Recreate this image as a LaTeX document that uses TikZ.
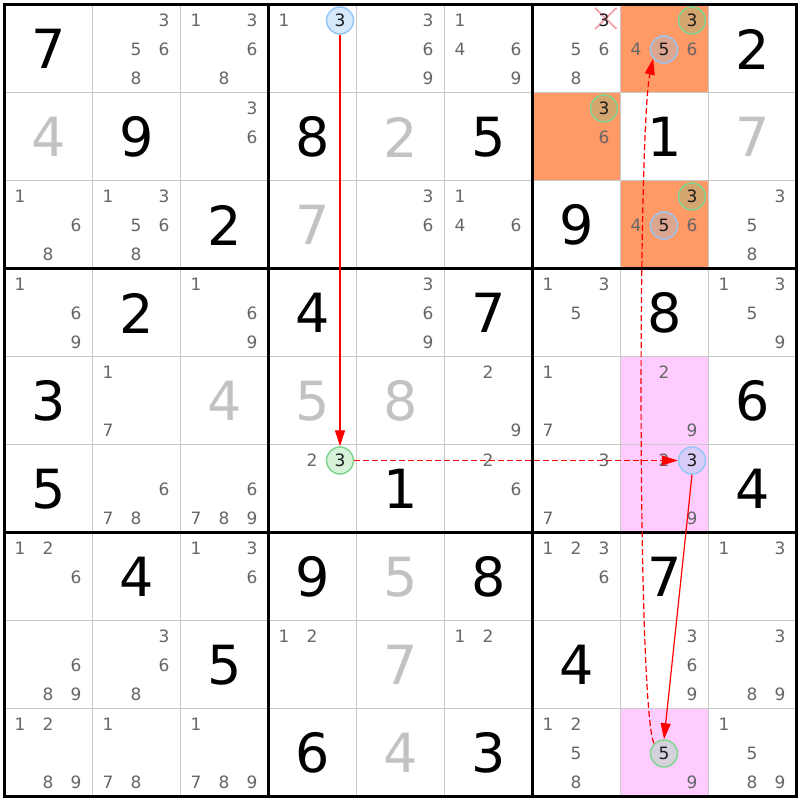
\documentclass[tikz,border=0pt]{standalone}
\usepackage{fontspec}
\setmainfont{DejaVu Sans}
\usetikzlibrary{arrows.meta}
\definecolor{solvedgray}{HTML}{C2C2C2}
\definecolor{candgray}{HTML}{666666}
\definecolor{thingray}{HTML}{C8C8C8}
\definecolor{digitdark}{HTML}{1A1A1A}
\definecolor{orangecell}{HTML}{FF9966}
\definecolor{pinkcell}{HTML}{FFCCFF}
\definecolor{cblue}{HTML}{96C6F4}
\definecolor{cgreen}{HTML}{80D690}
\definecolor{cbluew}{HTML}{D6E9FB}
\definecolor{cgreenw}{HTML}{D6F3DA}
\definecolor{cblueo}{HTML}{DBA58F}
\definecolor{cgreeno}{HTML}{D4A56F}
\definecolor{cbluep}{HTML}{D8CDF8}
\definecolor{cgreenp}{HTML}{D5D2DE}
\definecolor{crossc}{HTML}{F4A3AB}
\tikzset{
  given/.style={font=\fontsize{54}{54}\selectfont, text=black, inner sep=0pt},
  solved/.style={given, text=solvedgray},
  cand/.style={font=\fontsize{17}{17}\selectfont, text=candgray, inner sep=0pt},
  circd/.style={circle, draw, line width=1.5pt, minimum size=27pt, inner sep=0pt,
    font=\fontsize{17}{17}\selectfont, text=digitdark},
  circBW/.style={circd, draw=cblue, fill=cbluew},
  circGW/.style={circd, draw=cgreen, fill=cgreenw},
  circBO/.style={circd, draw=cblue, fill=cblueo},
  circGO/.style={circd, draw=cgreen, fill=cgreeno},
  circBP/.style={circd, draw=cblue, fill=cbluep},
  circGP/.style={circd, draw=cgreen, fill=cgreenp},
  arr/.style={draw=red, line width=1.2pt, -{Triangle[length=16pt,width=10pt,fill=red]}},
  dsh/.style={dash pattern=on 6pt off 3pt},
  thinline/.style={draw=thingray, line width=1pt},
  thickline/.style={draw=black, line width=3pt},
}
\newcommand\givenD[3]{\node[given] (g#1#2) at ({4.5+88*(#2-1)+44},{4.5+88*(#1-1)+44.5}) {#3};}
\newcommand\solvedD[3]{\node[solved] (s#1#2) at ({4.5+88*(#2-1)+44},{4.5+88*(#1-1)+44.5}) {#3};}
\newcommand\candD[3]{\foreach \d in {#3} {%
  \pgfmathsetmacro\cx{4.5+88*(#2-1)+15.5+28*mod(\d-1,3)}%
  \pgfmathsetmacro\cy{4.5+88*(#1-1)+16+29*int((\d-1)/3)}%
  \node[cand] (c#1#2\d) at (\cx,\cy) {\d};}}
\newcommand\circD[4]{%
  \pgfmathsetmacro\cx{4.5+88*(#2-1)+15.5+28*mod(#3-1,3)}%
  \pgfmathsetmacro\cy{4.5+88*(#1-1)+16+29*int((#3-1)/3)}%
  \node[#4] (k#1#2#3) at (\cx,\cy) {#3};}
\newcommand\cellfill[3]{\fill[#3] ({4.5+88*(#2-1)},{4.5+88*(#1-1)}) rectangle ++(88,88);}
\begin{document}
\begin{tikzpicture}[x=1pt,y=-1pt]
\useasboundingbox (0,0) rectangle (800,800);
\fill[white] (0,0) rectangle (800,800);
% highlighted cells
\cellfill{1}{8}{orangecell}
\cellfill{2}{7}{orangecell}
\cellfill{3}{8}{orangecell}
\cellfill{5}{8}{pinkcell}
\cellfill{6}{8}{pinkcell}
\cellfill{9}{8}{pinkcell}
% grid
\foreach \i in {1,2,4,5,7,8} {
  \draw[thinline] ({4.5+88*\i},4.5) -- ({4.5+88*\i},796.5);
  \draw[thinline] (4.5,{4.5+88*\i}) -- (796.5,{4.5+88*\i});
}
\foreach \i in {0,3,6,9} {
  \draw[thickline] ({4.5+88*\i},3) -- ({4.5+88*\i},798);
  \draw[thickline] (3,{4.5+88*\i}) -- (798,{4.5+88*\i});
}
% row 1
\givenD{1}{1}{7}
\candD{1}{2}{3,5,6,8}
\candD{1}{3}{1,3,6,8}
\candD{1}{4}{1}
\circD{1}{4}{3}{circBW}
\candD{1}{5}{3,6,9}
\candD{1}{6}{1,4,6,9}
\candD{1}{7}{5,6,8}
\draw[draw=crossc, line width=1.8pt] (595,8) -- (616.5,29) (595,29) -- (616.5,8);
\node[cand, text=digitdark] (x173) at (604,20) {3};
\candD{1}{8}{4,6}
\circD{1}{8}{3}{circGO}
\circD{1}{8}{5}{circBO}
\givenD{1}{9}{2}
% row 2
\solvedD{2}{1}{4}
\givenD{2}{2}{9}
\candD{2}{3}{3,6}
\givenD{2}{4}{8}
\solvedD{2}{5}{2}
\givenD{2}{6}{5}
\candD{2}{7}{6}
\circD{2}{7}{3}{circGO}
\givenD{2}{8}{1}
\solvedD{2}{9}{7}
% row 3
\candD{3}{1}{1,6,8}
\candD{3}{2}{1,3,5,6,8}
\givenD{3}{3}{2}
\solvedD{3}{4}{7}
\candD{3}{5}{3,6}
\candD{3}{6}{1,4,6}
\givenD{3}{7}{9}
\candD{3}{8}{4,6}
\circD{3}{8}{3}{circGO}
\circD{3}{8}{5}{circBO}
\candD{3}{9}{3,5,8}
% row 4
\candD{4}{1}{1,6,9}
\givenD{4}{2}{2}
\candD{4}{3}{1,6,9}
\givenD{4}{4}{4}
\candD{4}{5}{3,6,9}
\givenD{4}{6}{7}
\candD{4}{7}{1,3,5}
\givenD{4}{8}{8}
\candD{4}{9}{1,3,5,9}
% row 5
\givenD{5}{1}{3}
\candD{5}{2}{1,7}
\solvedD{5}{3}{4}
\solvedD{5}{4}{5}
\solvedD{5}{5}{8}
\candD{5}{6}{2,9}
\candD{5}{7}{1,7}
\candD{5}{8}{2,9}
\givenD{5}{9}{6}
% row 6
\givenD{6}{1}{5}
\candD{6}{2}{6,7,8}
\candD{6}{3}{6,7,8,9}
\candD{6}{4}{2}
\circD{6}{4}{3}{circGW}
\givenD{6}{5}{1}
\candD{6}{6}{2,6}
\candD{6}{7}{3,7}
\candD{6}{8}{2,9}
\circD{6}{8}{3}{circBP}
\givenD{6}{9}{4}
% row 7
\candD{7}{1}{1,2,6}
\givenD{7}{2}{4}
\candD{7}{3}{1,3,6}
\givenD{7}{4}{9}
\solvedD{7}{5}{5}
\givenD{7}{6}{8}
\candD{7}{7}{1,2,3,6}
\givenD{7}{8}{7}
\candD{7}{9}{1,3}
% row 8
\candD{8}{1}{6,8,9}
\candD{8}{2}{3,6,8}
\givenD{8}{3}{5}
\candD{8}{4}{1,2}
\solvedD{8}{5}{7}
\candD{8}{6}{1,2}
\givenD{8}{7}{4}
\candD{8}{8}{3,6,9}
\candD{8}{9}{3,8,9}
% row 9
\candD{9}{1}{1,2,8,9}
\candD{9}{2}{1,7,8}
\candD{9}{3}{1,7,8,9}
\givenD{9}{4}{6}
\solvedD{9}{5}{4}
\givenD{9}{6}{3}
\candD{9}{7}{1,2,5,8}
\candD{9}{8}{9}
\circD{9}{8}{5}{circGP}
\candD{9}{9}{1,5,8,9}
% chain
\draw[arr] (k143.south) -- (k643.north);
\draw[arr, dsh] (k643.east) -- (k683.west);
\draw[arr] (k683.south) -- (k985.north);
\draw[arr, dsh] (k985.135) .. controls (637,705) and (638,130) .. (k185.220);
\end{tikzpicture}
\end{document}
